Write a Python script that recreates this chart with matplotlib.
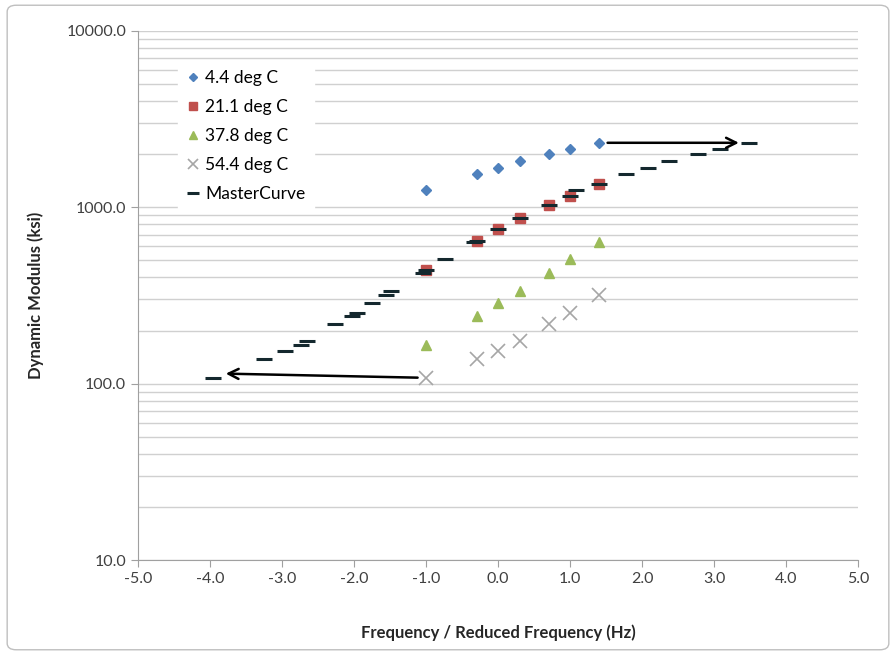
import matplotlib
matplotlib.use("Agg")
import matplotlib.pyplot as plt
from matplotlib.ticker import FixedLocator, FormatStrFormatter, LogLocator, NullFormatter
from matplotlib.patches import FancyBboxPatch

plt.rcParams['font.family'] = ['Lato', 'DejaVu Sans']

# log10 frequency (Hz)
log_freq = [-1.0, -0.3, 0.0, 0.3, 0.7, 1.0, 1.4]

# dynamic modulus (ksi) per test temperature
e_4_4 = [1254, 1545, 1670, 1833, 2005, 2142, 2318]
e_21_1 = [441, 645, 753, 869, 1030, 1159, 1355]
e_37_8 = [166, 242, 286, 335, 424, 509, 636]
e_54_4 = [108, 138, 153, 175, 218, 251, 318]

# master curve: shifted (reduced) frequencies and moduli
master_x = [1.08, 1.78, 2.08, 2.37, 2.78, 3.08, 3.48,
            -1.0, -0.3, 0.0, 0.3, 0.7, 1.0, 1.4,
            -2.74, -2.03, -1.75, -1.49, -1.05, -0.74, -0.33,
            -3.96, -3.25, -2.96, -2.66, -2.26, -1.96, -1.56]
master_y = e_4_4 + e_21_1 + e_37_8 + e_54_4

fig = plt.figure(figsize=(8.96, 6.55), dpi=100)
ax = fig.add_axes([0.154, 0.145, 0.804, 0.808])

# outer chart border
fig.patches.append(FancyBboxPatch((0.008, 0.008), 0.984, 0.984,
                                  boxstyle="round,pad=0,rounding_size=0.01",
                                  transform=fig.transFigure, fill=False,
                                  edgecolor='#BFBFBF', linewidth=1.0))

ax.plot(log_freq, e_4_4, 'D', color='#4F81BD', markersize=5.5, label='4.4 deg C', zorder=3)
ax.plot(log_freq, e_21_1, 's', color='#C0504D', markersize=7, label='21.1 deg C', zorder=3)
ax.plot(log_freq, e_37_8, '^', color='#9BBB59', markersize=7, label='37.8 deg C', zorder=3)
ax.plot(log_freq, e_54_4, 'x', color='#A6A6A6', markersize=10, mew=1.2, label='54.4 deg C', zorder=3)
ax.plot(master_x, master_y, '_', color='#14282E', markersize=12, mew=2.2,
        label='MasterCurve', zorder=4)

# shift arrows
ax.annotate('', xy=(3.38, e_4_4[-1]), xytext=(1.48, e_4_4[-1]),
            arrowprops=dict(arrowstyle='->', color='black', lw=1.8, mutation_scale=18), zorder=5)
ax.annotate('', xy=(-3.82, 114), xytext=(-1.08, e_54_4[0]),
            arrowprops=dict(arrowstyle='->', color='black', lw=1.8, mutation_scale=18), zorder=5)

ax.set_yscale('log')
ax.set_xlim(-5, 5)
ax.set_ylim(10, 10000)
ax.xaxis.set_major_locator(FixedLocator([-5, -4, -3, -2, -1, 0, 1, 2, 3, 4, 5]))
ax.xaxis.set_major_formatter(FormatStrFormatter('%.1f'))
ax.yaxis.set_major_locator(FixedLocator([10, 100, 1000, 10000]))
ax.yaxis.set_major_formatter(FormatStrFormatter('%.1f'))
ax.yaxis.set_minor_locator(LogLocator(base=10, subs=range(2, 10)))
ax.yaxis.set_minor_formatter(NullFormatter())

ax.grid(True, which='both', axis='y', color='#D0D0D0', linewidth=1.0)
ax.set_axisbelow(True)
for s in ['top', 'right']:
    ax.spines[s].set_visible(False)
for s in ['left', 'bottom']:
    ax.spines[s].set_color('#A0A0A0')
ax.tick_params(axis='both', which='major', colors='#A0A0A0', labelcolor='#404040',
               labelsize=11.5, length=5, direction='out')
ax.tick_params(axis='y', which='minor', length=0)

ax.set_xlabel('Frequency / Reduced Frequency (Hz)', fontsize=12, fontweight='bold',
              color='#262626', labelpad=28)
ax.set_ylabel('Dynamic Modulus (ksi)', fontsize=12, fontweight='bold',
              color='#262626', labelpad=16)

leg = ax.legend(loc='upper left', bbox_to_anchor=(0.043, 0.958), frameon=True,
                fontsize=12.5, handletextpad=0.3, handlelength=0.8, labelspacing=0.74,
                borderpad=0.5, fancybox=False, markerscale=0.75)
leg.get_frame().set_edgecolor('white')
leg.get_frame().set_facecolor('white')
leg.get_frame().set_alpha(1.0)

fig.savefig('out.png', dpi=100)
